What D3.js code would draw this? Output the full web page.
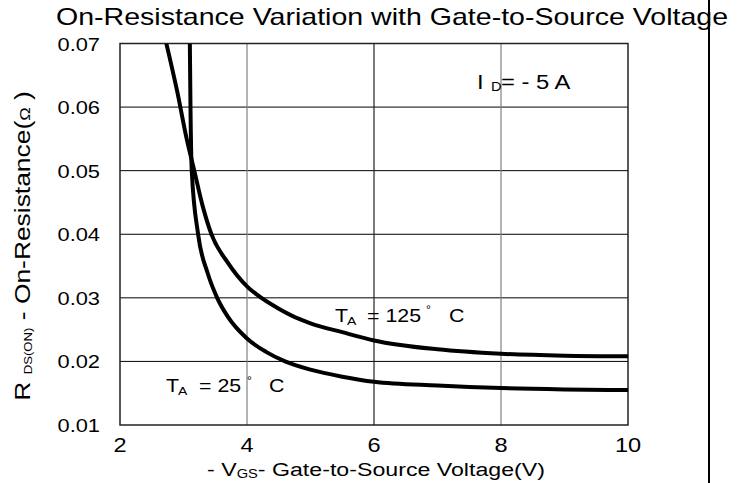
<!DOCTYPE html>
<html><head><meta charset="utf-8">
<script src="https://cdn.jsdelivr.net/npm/d3@7"></script>
<style>html,body{margin:0;padding:0;background:#fff;}svg{display:block;font-family:"Liberation Sans",Arial,sans-serif;}</style>
</head><body>
<svg id="chart" width="744" height="483"></svg>
<script>
// ---- data ----
const xTicks = [2, 4, 6, 8, 10];
const yTicks = [0.01, 0.02, 0.03, 0.04, 0.05, 0.06, 0.07];
const yTickLabels = ["0.01", "0.02", "0.03", "0.04", "0.05", "0.06", "0.07"];
const vgs25  = [3.10, 3.11, 3.13, 3.23, 3.38, 3.53, 3.70, 4.0, 4.3, 4.6, 5.0, 5.5, 6.0, 7.0, 8.0, 9.0, 10.0];
const rds25  = [0.070, 0.060, 0.050, 0.040, 0.0339, 0.0300, 0.0270, 0.0236, 0.0215, 0.0200, 0.0187, 0.0176, 0.0168, 0.0162, 0.0158, 0.0156, 0.0155];
const vgs125 = [2.73, 2.90, 3.05, 3.17, 3.30, 3.44, 3.70, 4.0, 4.21, 4.5, 4.84, 5.0, 5.5, 6.0, 7.0, 8.0, 9.0, 10.0];
const rds125 = [0.070, 0.0625, 0.0550, 0.0500, 0.0445, 0.0400, 0.0355, 0.0318, 0.0301, 0.0283, 0.0266, 0.0260, 0.0246, 0.0233, 0.0219, 0.0212, 0.0209, 0.0208];

const svg = d3.select("#chart");
const L = 120, R = 628, T = 43.5, B = 425;
const x = d3.scaleLinear().domain([2, 10]).range([L, R]);
const y = d3.scaleLinear().domain([0.01, 0.07]).range([B, T]);
const SX = 1.22;

function label(px, py, txt, size, anchor, sx) {
  return svg.append("text")
    .attr("transform", `translate(${px},${py}) scale(${sx || SX},1)`)
    .attr("font-size", size)
    .attr("text-anchor", anchor || "start")
    .attr("fill", "#000")
    .text(txt);
}

// grid
svg.append("g").selectAll("line").data(yTicks.slice(1, -1)).join("line")
  .attr("x1", L).attr("x2", R).attr("y1", d => y(d)).attr("y2", d => y(d))
  .attr("stroke", "#000").attr("stroke-width", 1);
svg.append("g").selectAll("line").data(xTicks.slice(1, -1)).join("line")
  .attr("x1", d => x(d)).attr("x2", d => x(d)).attr("y1", T).attr("y2", B)
  .attr("stroke", d => d === 6 ? "#222" : "#808080").attr("stroke-width", 1.2);
// frame
svg.append("rect").attr("x", L).attr("y", T).attr("width", R - L).attr("height", B - T)
  .attr("fill", "none").attr("stroke", "#222").attr("stroke-width", 1.5);

// tick labels
yTicks.forEach((v, i) => label(100, y(v) + 7, yTickLabels[i], 19, "end", 1.15));
xTicks.forEach(v => label(x(v), 452, String(v), 20, "middle", 1.18));

// curves
svg.append("clipPath").attr("id", "clip").append("rect")
  .attr("x", L).attr("y", T).attr("width", R - L).attr("height", B - T);
const line = d3.line().x(d => x(d[0])).y(d => y(d[1])).curve(d3.curveMonotoneX);
[[vgs25, rds25], [vgs125, rds125]].forEach(([vs, rs]) => {
  svg.append("path").datum(vs.map((v, i) => [v, rs[i]]))
    .attr("d", line).attr("fill", "none").attr("stroke", "#000")
    .attr("stroke-width", 4).attr("stroke-linejoin", "round")
    .attr("clip-path", "url(#clip)");
});

// title
label(392, 25, "On-Resistance Variation with Gate-to-Source Voltage", 23.4, "middle");

// x-axis label
const xl = svg.append("text").attr("transform", `translate(376,476) scale(${SX},1)`)
  .attr("font-size", 19).attr("text-anchor", "middle");
xl.append("tspan").text("- V");
xl.append("tspan").attr("font-size", 12).attr("dy", 2).text("GS");
xl.append("tspan").attr("dy", -2).text("- Gate-to-Source Voltage(V)");

// y-axis label
const yl = svg.append("text").attr("transform", `translate(30,246) rotate(-90) scale(1.2,1)`)
  .attr("font-size", 22).attr("text-anchor", "middle");
yl.append("tspan").text("R ");
yl.append("tspan").attr("font-size", 11).attr("dy", 2).text("DS(ON)");
yl.append("tspan").attr("dy", -2).text(" - On-Resistance(");
yl.append("tspan").attr("font-size", 15).text("Ω");
yl.append("tspan").text(" )");

// annotations
label(477, 88.5, "I", 19.5);
label(491, 91, "D", 12);
label(501, 88.5, "= - 5 A", 19.5);

label(335, 321.5, "T", 17.5);
label(347, 324.5, "A", 11.5);
label(367, 321.5, "= 125", 17.5);
label(426, 313, "°", 10);
label(449, 321.5, "C", 17.5);

label(166, 392, "T", 17.5);
label(178, 395, "A", 11.5);
label(199, 392, "= 25", 17.5);
label(247, 384, "°", 10);
label(269, 392, "C", 17.5);

// right vertical line
svg.append("line").attr("x1", 709).attr("x2", 709).attr("y1", 0).attr("y2", 483)
  .attr("stroke", "#000").attr("stroke-width", 2);
</script>
</body></html>
